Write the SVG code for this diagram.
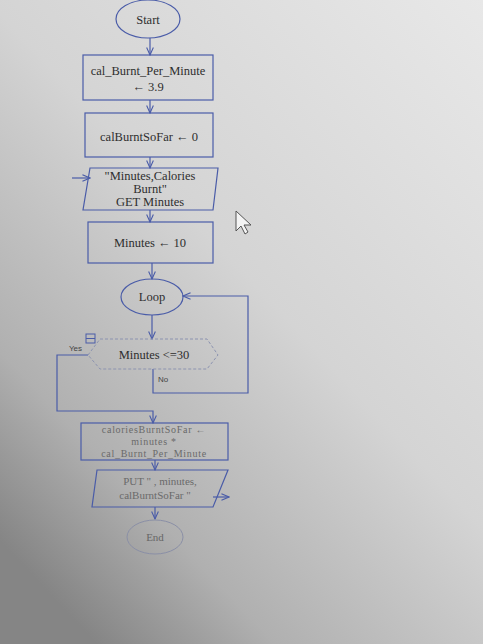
<svg xmlns="http://www.w3.org/2000/svg" width="483" height="644" viewBox="0 0 483 644">
<defs>
<linearGradient id="bg" x1="1" y1="0" x2="0.2" y2="1">
<stop offset="0" stop-color="#e8e8e8"/>
<stop offset="0.5" stop-color="#d4d4d4"/>
<stop offset="0.82" stop-color="#b0b0b0"/>
<stop offset="1" stop-color="#858585"/>
</linearGradient>
<marker id="ah" viewBox="0 0 10 10" refX="9" refY="5" markerWidth="7" markerHeight="7" orient="auto"><path d="M0,1 L9,5 L0,9" fill="none" stroke="#4a5ca8" stroke-width="1.3"/></marker>
<style>
.s{fill:none;stroke:#4a5ca8;stroke-width:1.2}
.d{fill:none;stroke:#8c93b0;stroke-width:1;stroke-dasharray:3 2}
.t{font-family:"Liberation Serif",serif;font-size:12.5px;fill:#2e2e2e;text-anchor:middle}
.f{fill:#6a6a6a;font-size:11px}
.sm{font-size:10px;letter-spacing:0.7px}
.l{font-family:"Liberation Sans",sans-serif;font-size:8px;fill:#444}
</style>
</defs>
<rect width="483" height="644" fill="url(#bg)"/>
<g id="connectors">
<path class="s" d="M150,38 V55" marker-end="url(#ah)"/>
<path class="s" d="M150,100 V113" marker-end="url(#ah)"/>
<path class="s" d="M150,157 V168" marker-end="url(#ah)"/>
<path class="s" d="M72,178 H90" marker-end="url(#ah)"/>
<path class="s" d="M150,210 V222" marker-end="url(#ah)"/>
<path class="s" d="M152,263 V279" marker-end="url(#ah)"/>
<path class="s" d="M152,315 V339" marker-end="url(#ah)"/>
<path class="s" d="M88,355 H57 V411 H153 V423" marker-end="url(#ah)"/>
<path class="s" d="M153,369 V393 H248 V296 H183" marker-end="url(#ah)"/>
<path class="s" d="M155,460 V470" marker-end="url(#ah)"/>
<path class="s" d="M213,497 H229" marker-end="url(#ah)"/>
<path class="s" d="M155,507 V519" marker-end="url(#ah)"/>
</g>
<g id="start"><ellipse class="s" cx="148" cy="19" rx="32" ry="19"/><text class="t" x="148" y="24">Start</text></g>
<g id="assign1"><rect class="s" x="83" y="55" width="130" height="45"/><text class="t" x="148" y="75">cal_Burnt_Per_Minute</text><text class="t" x="148" y="91">← 3.9</text></g>
<g id="assign2"><rect class="s" x="85" y="113" width="128" height="44"/><text class="t" x="149" y="141">calBurntSoFar ← 0</text></g>
<g id="input"><path class="s" d="M90,168 H218 L213,210 H83 Z"/><text class="t" x="150" y="180">"Minutes,Calories</text><text class="t" x="150" y="193">Burnt"</text><text class="t" x="150" y="206">GET Minutes</text></g>
<g id="assign3"><rect class="s" x="88" y="222" width="125" height="41"/><text class="t" x="150" y="247">Minutes  ← 10</text></g>
<g id="loop"><ellipse class="s" cx="152" cy="297" rx="31" ry="18"/><text class="t" x="152" y="301">Loop</text></g>
<g id="decision"><path class="d" d="M88,355 L100,339 H207 L218,355 L207,369 H100 Z"/><rect x="86" y="334" width="9" height="9" fill="none" stroke="#4a5ca8" stroke-width="1"/><path d="M86,338.5 H95" stroke="#4a5ca8" stroke-width="1"/><text class="t" x="154" y="359">Minutes &lt;=30</text><text class="l" x="69" y="351">Yes</text><text class="l" x="158" y="382">No</text></g>
<g id="assign4"><rect class="s" x="81" y="423" width="147" height="37"/><text class="t f sm" x="154" y="433">caloriesBurntSoFar ←</text><text class="t f sm" x="154" y="445">minutes *</text><text class="t f sm" x="154" y="457">cal_Burnt_Per_Minute</text></g>
<g id="output"><path class="s" d="M97,470 H228 L213,507 H92 Z"/><text class="t f" x="160" y="485">PUT "      , minutes,</text><text class="t f" x="155" y="499">calBurntSoFar "</text></g>
<g id="end"><ellipse cx="155" cy="537" rx="28" ry="17" fill="none" stroke="#8a8fa6" stroke-width="1"/><text class="t f" x="155" y="541" style="fill:#666">End</text></g>
<path d="M236,211 V231 L241,226 L245,234 L248,232 L244,225 L251,225 Z" fill="#f4f4f4" stroke="#555" stroke-width="1"/>
</svg>
